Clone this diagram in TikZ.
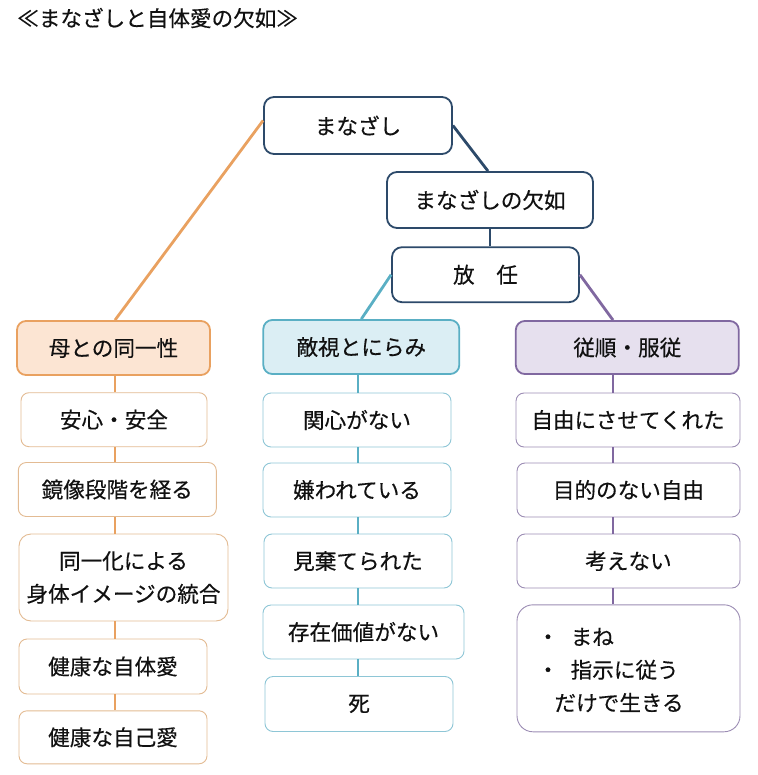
\documentclass[tikz,border=0pt]{standalone}
\usepackage{fontspec}
\setmainfont{Noto Sans CJK JP}
\newfontfamily\jpfont[FakeBold=0.35]{Noto Sans CJK JP}
\definecolor{navy}{HTML}{2D4A6A}
\definecolor{orgline}{HTML}{E9A160}
\definecolor{orgborder}{HTML}{E3BB93}
\definecolor{orgfill}{HTML}{FCE5D3}
\definecolor{tealline}{HTML}{5AAFC4}
\definecolor{tealborder}{HTML}{8EC6D6}
\definecolor{tealfill}{HTML}{DBEEF4}
\definecolor{purpline}{HTML}{8068A0}
\definecolor{purpborder}{HTML}{9C8DB4}
\definecolor{purpfill}{HTML}{E6E0EE}
\definecolor{ink}{HTML}{111111}
\begin{document}
\begin{tikzpicture}[x=1pt,y=-1pt,
  txt/.style={font=\jpfont\fontsize{21.6}{33}\selectfont, text=ink},
  box/.style={txt, draw, fill=white, inner sep=0pt, align=center, rounded corners=8pt},
  topbox/.style={box, draw=navy, line width=1.8pt, rounded corners=10pt},
  ohead/.style={box, draw=orgline, fill=orgfill, line width=1.8pt, rounded corners=9pt},
  ochild/.style={box, draw=orgborder, line width=0.9pt},
  thead/.style={box, draw=tealline, fill=tealfill, line width=1.8pt, rounded corners=9pt},
  tchild/.style={box, draw=tealborder, line width=0.9pt},
  phead/.style={box, draw=purpline, fill=purpfill, line width=1.8pt, rounded corners=9pt},
  pchild/.style={box, draw=purpborder, line width=0.9pt},
  nline/.style={draw=navy, line width=2.8pt},
  oline/.style={draw=orgline, line width=2.8pt},
  tline/.style={draw=tealline, line width=2.8pt},
  pline/.style={draw=purpline, line width=2.8pt},
  wh/.style 2 args={minimum width=#1pt, minimum height=#2pt}
]
\useasboundingbox (0,0) rectangle (757,775);

% title
\node[txt, anchor=west, inner sep=0pt] (title) at (17,18) {≪まなざしと自体愛の欠如≫};

% top nodes
\node[topbox, wh={188}{57}] (mana) at (358,125.5) {まなざし};
\node[topbox, wh={206}{56}] (ketsu) at (490,200) {まなざしの欠如};
\node[topbox, wh={187}{55}] (hounin) at (485.5,274.7) {放　任};

% column 1
\node[ohead, wh={193}{54}] (mother) at (113.5,348) {母との同一性};
\node[ochild, wh={186}{54}] (anshin) at (114,419.7) {安心・安全};
\node[ochild, wh={198}{54}] (kyozo) at (117.3,489.5) {鏡像段階を経る};
\node[ochild, wh={209}{87}, rounded corners=12pt] (doitsu) at (123.5,577.5) {同一化による\\身体イメージの統合};
\node[ochild, wh={188}{55}] (kenko1) at (113,666.5) {健康な自体愛};
\node[ochild, wh={188}{53}] (kenko2) at (113,737.3) {健康な自己愛};

% column 2
\node[thead, wh={196}{54}] (teki) at (361.3,347) {敵視とにらみ};
\node[tchild, wh={188}{54}] (kanshin) at (357,420) {関心がない};
\node[tchild, wh={188}{54}] (kiraw) at (357,490) {嫌われている};
\node[tchild, wh={188}{54}] (misute) at (358,561) {見棄てられた};
\node[tchild, wh={201}{54}] (sonzai) at (363.5,632) {存在価値がない};
\node[tchild, wh={188}{55}] (shi) at (359,704) {死};

% column 3
\node[phead, wh={223}{53}] (juu) at (627.3,347.5) {従順・服従};
\node[pchild, wh={224}{54}] (jiyu) at (628,420) {自由にさせてくれた};
\node[pchild, wh={223}{54}] (mokuteki) at (628.5,490) {目的のない自由};
\node[pchild, wh={223}{54}] (kangae) at (628.5,561) {考えない};
\node[pchild, wh={223}{127}, rounded corners=16pt] (mane) at (628.5,668.3) {};
\node[txt, anchor=west, align=left, inner sep=0pt] (manetxt) at (537,670)
  {・\hspace{0.55em}まね\\・\hspace{0.55em}指示に従う\\\hspace{0.8em}だけで生きる};

% column line x positions
\coordinate (c1) at (115,0);
\coordinate (c2) at (358,0);
\coordinate (c3) at (613,0);

% top connectors
\draw[nline] (mana.east) -- ([xshift=-2pt]ketsu.north);
\draw[nline] (ketsu.south) -- (ketsu.south |- hounin.north);
\draw[oline] ([yshift=5pt]mana.west) -- (mother.north -| c1);
\draw[tline] (hounin.west) -- (teki.north);
\draw[pline] (hounin.east) -- (juu.north -| c3);

% column 1 connectors
\draw[oline] (mother.south -| c1) -- (anshin.north -| c1);
\draw[oline] (anshin.south -| c1) -- (kyozo.north -| c1);
\draw[oline] (kyozo.south -| c1) -- (doitsu.north -| c1);
\draw[oline] (doitsu.south -| c1) -- (kenko1.north -| c1);
\draw[oline] (kenko1.south -| c1) -- (kenko2.north -| c1);

% column 2 connectors
\draw[tline] (teki.south -| c2) -- (kanshin.north -| c2);
\draw[tline] (kanshin.south -| c2) -- (kiraw.north -| c2);
\draw[tline] (kiraw.south -| c2) -- (misute.north -| c2);
\draw[tline] (misute.south -| c2) -- (sonzai.north -| c2);
\draw[tline] (sonzai.south -| c2) -- (shi.north -| c2);

% column 3 connectors
\draw[pline] (juu.south -| c3) -- (jiyu.north -| c3);
\draw[pline] (jiyu.south -| c3) -- (mokuteki.north -| c3);
\draw[pline] (mokuteki.south -| c3) -- (kangae.north -| c3);
\draw[pline] (kangae.south -| c3) -- (mane.north -| c3);
\end{tikzpicture}
\end{document}
